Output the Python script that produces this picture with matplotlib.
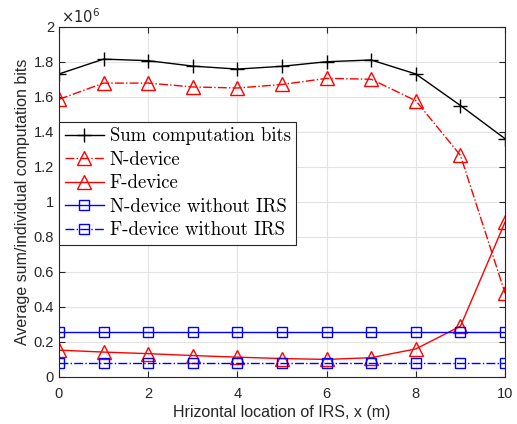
import numpy as np
import matplotlib.pyplot as plt
from matplotlib.ticker import FuncFormatter

x = np.arange(0, 11)
# values in units of 1e6 bits
sum_bits = [1.73, 1.815, 1.806, 1.775, 1.758, 1.774, 1.80, 1.81, 1.73, 1.55, 1.36]
n_dev = [1.585, 1.678, 1.678, 1.656, 1.65, 1.67, 1.705, 1.70, 1.577, 1.265, 0.477]
f_dev = [0.153, 0.142, 0.133, 0.122, 0.113, 0.105, 0.10, 0.11, 0.16, 0.29, 0.885]
n_noirs = [0.257] * 11
f_noirs = [0.077] * 11

plt.rcParams['font.family'] = 'Liberation Sans'
fig = plt.figure(figsize=(5.17, 4.24), dpi=100)
ax = fig.add_axes([0.114, 0.111, 0.863, 0.826])

ax.plot(x, sum_bits, 'k-', marker='+', ms=10, mew=1, lw=1, label='Sum computation bits')
ax.plot(x, n_dev, 'r-.', marker='^', ms=9.5, mfc='none', mew=1, lw=1, label='N-device')
ax.plot(x, f_dev, 'r-', marker='^', ms=9.5, mfc='none', mew=1, lw=1, label='F-device')
ax.plot(x, n_noirs, 'b-', marker='s', ms=6.5, mfc='none', mew=1, lw=1, label='N-device without IRS')
ax.plot(x, f_noirs, 'b-.', marker='s', ms=6.5, mfc='none', mew=1, lw=1, label='F-device without IRS')

ax.set_xlim(0, 10)
ax.set_ylim(0, 2)
ax.set_xticks(range(0, 11, 2))
ax.set_yticks(np.arange(0, 2.01, 0.2))
ax.yaxis.set_major_formatter(FuncFormatter(lambda v, p: '%g' % round(v, 1)))
ax.grid(True, color='#e3e3e3', lw=0.8)
ax.set_axisbelow(True)
ax.tick_params(direction='in', top=True, right=True, labelsize=10.5, colors='#262626', length=4)
ax.tick_params(axis='x', pad=7)
for s in ax.spines.values():
    s.set_color('#262626')

ax.text(0.005, 1.003, r'$\times10^{6}$', transform=ax.transAxes, fontsize=10.5, color='#262626',
        ha='left', va='bottom')
ax.set_xlabel('Hrizontal location of IRS, x (m)', fontsize=11.5, color='#262626', labelpad=3)
ax.set_ylabel('Average sum/individual computation bits', fontsize=11.5, color='#262626', labelpad=3)

leg = ax.legend(loc='upper left', bbox_to_anchor=(0, 0.729), borderaxespad=0,
                fancybox=False, edgecolor='#262626', framealpha=1,
                prop={'family': 'cmr10', 'size': 13.5}, handlelength=2.1,
                handletextpad=0.3, borderpad=0.3, labelspacing=0.3)
leg.get_frame().set_linewidth(0.8)

fig.savefig('out.png', dpi=100)
